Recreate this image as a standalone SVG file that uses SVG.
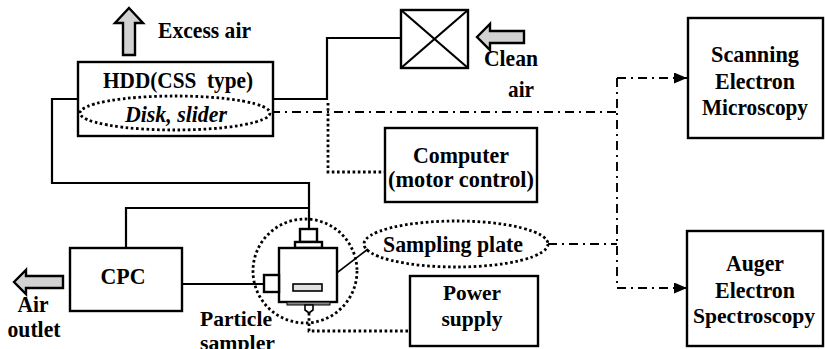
<svg xmlns="http://www.w3.org/2000/svg" width="825" height="349" viewBox="0 0 825 349">
<style>
text{font-family:"Liberation Serif","Times New Roman",serif;font-weight:700;font-size:24px;fill:#000}
.c{text-anchor:middle}
.s{font-size:22px}
.box{fill:#fff;stroke:#000;stroke-width:2.4}
.ln{fill:none;stroke:#000;stroke-width:2.2}
.dot{fill:none;stroke:#000;stroke-width:2.8;stroke-dasharray:2.6 2.6}
.dd{fill:none;stroke:#000;stroke-width:1.9;stroke-dasharray:9 5 2 5}
.blk{fill:#d2d2d2;stroke:#000;stroke-width:2.4;stroke-linejoin:miter}
</style>
<defs>
<marker id="ah" markerUnits="userSpaceOnUse" markerWidth="14" markerHeight="12" refX="13" refY="5.5" orient="auto">
<path d="M0,0 L13,5.5 L0,11 z" fill="#000"/>
</marker>
<marker id="ah2" markerUnits="userSpaceOnUse" markerWidth="14" markerHeight="12" refX="13" refY="5" orient="auto">
<path d="M0,0 L13,5 L0,10 z" fill="#000"/>
</marker>
</defs>
<rect width="825" height="349" fill="#fff"/>

<g id="connectors">
<polyline class="ln" points="274,99 327,99 327,38 401,38"/>
<polyline class="ln" points="78,99 52,99 52,183 309,183 309,229"/>
<polyline class="ln" points="126,248 126,208 309,208"/>
<line class="ln" x1="182" y1="284" x2="264" y2="284"/>
<polyline class="dot" points="328,103 328,172 385,172"/>
<polyline class="dot" points="309,313 309,331 410,331"/>
<line class="dd" x1="271" y1="112" x2="617" y2="112"/>
<line class="dd" x1="548" y1="244" x2="617" y2="244"/>
<line class="dd" x1="617" y1="78" x2="617" y2="288"/>
<line class="dd" x1="617" y1="78" x2="687" y2="78" marker-end="url(#ah)"/>
<line class="dd" x1="617" y1="288" x2="687" y2="288" marker-end="url(#ah)"/>
<line x1="368" y1="249" x2="321" y2="285" stroke="#000" stroke-width="1.6" marker-end="url(#ah2)"/>
</g>

<g id="excess-air">
<polygon class="blk" points="129,8 143,23 135,23 135,55 123,55 123,23 115,23"/>
<text x="158" y="38" textLength="93" lengthAdjust="spacingAndGlyphs">Excess air</text>
</g>

<g id="hdd">
<rect class="box" x="78" y="62" width="195" height="74"/>
<text class="c" x="178" y="88" style="white-space:pre" xml:space="preserve" textLength="150" lengthAdjust="spacingAndGlyphs">HDD(CSS  type)</text>
<ellipse class="dot" cx="175" cy="113" rx="95" ry="17"/>
<text class="c" x="176" y="122" font-style="italic" textLength="102" lengthAdjust="spacingAndGlyphs">Disk, slider</text>
</g>

<g id="filter">
<rect class="box" x="401" y="10" width="67" height="58"/>
<line class="ln" x1="401" y1="10" x2="468" y2="68"/>
<line class="ln" x1="468" y1="10" x2="401" y2="68"/>
</g>

<g id="clean-air">
<polygon class="blk" points="477,37 490,24 490,31 524,31 524,43 490,43 490,50"/>
<text x="484" y="66" textLength="54" lengthAdjust="spacingAndGlyphs">Clean</text>
<text class="c" x="521" y="97" textLength="26" lengthAdjust="spacingAndGlyphs">air</text>
</g>

<g id="sem">
<rect class="box" x="688" y="18" width="135" height="120"/>
<text class="c" x="755" y="62" textLength="88" lengthAdjust="spacingAndGlyphs">Scanning</text>
<text class="c" x="755" y="89" textLength="80" lengthAdjust="spacingAndGlyphs">Electron</text>
<text class="c" x="755" y="115" textLength="106" lengthAdjust="spacingAndGlyphs">Microscopy</text>
</g>

<g id="computer">
<rect class="box" x="385" y="128" width="152" height="74"/>
<text class="c" x="461" y="163" textLength="96" lengthAdjust="spacingAndGlyphs">Computer</text>
<text class="c" x="461" y="187" textLength="146" lengthAdjust="spacingAndGlyphs">(motor control)</text>
</g>

<g id="cpc">
<rect class="box" x="70" y="248" width="112" height="63"/>
<text class="c" x="123" y="284" textLength="45" lengthAdjust="spacingAndGlyphs">CPC</text>
</g>

<g id="air-outlet">
<polygon class="blk" points="14,282 26,270 26,276 63,276 63,288 26,288 26,294"/>
<text class="c" x="33" y="312" textLength="31" lengthAdjust="spacingAndGlyphs">Air</text>
<text class="c" x="34" y="337" textLength="53" lengthAdjust="spacingAndGlyphs">outlet</text>
</g>

<g id="particle-sampler">
<circle class="dot" cx="305" cy="271" r="52"/>
<rect class="box" x="300" y="229" width="17" height="13"/>
<rect class="box" x="295" y="242" width="27" height="6"/>
<rect class="box" x="279" y="248" width="58" height="54"/>
<rect class="box" x="264" y="275" width="15" height="17"/>
<rect x="293" y="284" width="29" height="7" fill="#e0e0e0" stroke="#000" stroke-width="1.6"/>
<rect x="287" y="302" width="43" height="3" fill="#888" stroke="#000" stroke-width="1"/>
<polygon points="305,305 313,305 313,310 309,313 305,310" fill="#fff" stroke="#000" stroke-width="1.6"/>
<text class="s" x="200" y="326" textLength="72" lengthAdjust="spacingAndGlyphs">Particle</text>
<text class="s" x="200" y="350" textLength="75" lengthAdjust="spacingAndGlyphs">sampler</text>
</g>

<g id="sampling-plate">
<ellipse class="dot" cx="456" cy="244" rx="92" ry="23"/>
<text class="c" x="453" y="252" textLength="140" lengthAdjust="spacingAndGlyphs">Sampling plate</text>
</g>

<g id="power-supply">
<rect class="box" x="410" y="276" width="128" height="70"/>
<text class="c s" x="472" y="300" textLength="58" lengthAdjust="spacingAndGlyphs">Power</text>
<text class="c s" x="472" y="326" textLength="61" lengthAdjust="spacingAndGlyphs">supply</text>
</g>

<g id="aes">
<rect class="box" x="687" y="231" width="136" height="115"/>
<text class="c" x="755" y="271" textLength="58" lengthAdjust="spacingAndGlyphs">Auger</text>
<text class="c" x="755" y="298" textLength="80" lengthAdjust="spacingAndGlyphs">Electron</text>
<text class="c s" x="754" y="323" textLength="122" lengthAdjust="spacingAndGlyphs">Spectroscopy</text>
</g>
</svg>
